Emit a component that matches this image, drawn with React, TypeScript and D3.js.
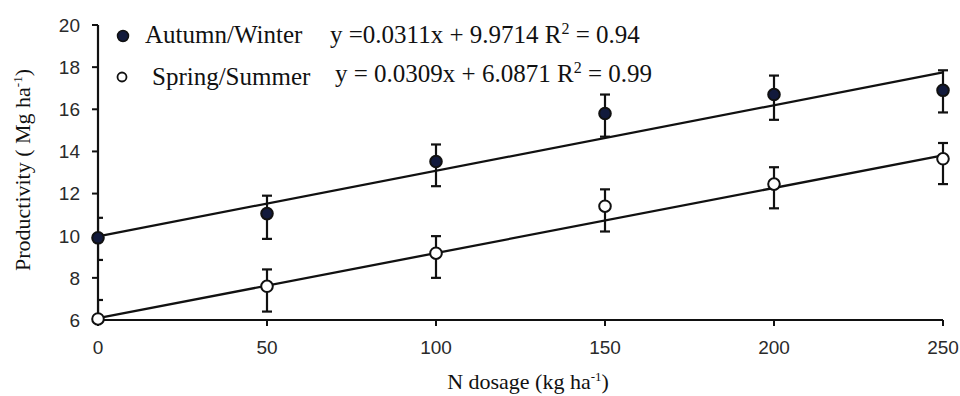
import * as d3 from "d3"

const doses = [0, 50, 100, 150, 200, 250]
const autumnMean = [9.9, 11.05, 13.52, 15.8, 16.7, 16.9]
const autumnLow = [8.85, 9.85, 12.35, 14.7, 15.5, 15.85]
const autumnHigh = [10.85, 11.9, 14.33, 16.7, 17.6, 17.85]
const springMean = [6.05, 7.6, 9.17, 11.4, 12.45, 13.65]
const springLow = [5.1, 6.4, 8.0, 10.2, 11.3, 12.45]
const springHigh = [6.95, 8.4, 9.98, 12.2, 13.25, 14.4]
const fits = [
  { slope: 0.0311, intercept: 9.9714 },
  { slope: 0.0309, intercept: 6.0871 },
]
const yTicks = [6, 8, 10, 12, 14, 16, 18, 20]
const xTicks = [0, 50, 100, 150, 200, 250]

const W = 960
const H = 396
const serif = "'Liberation Serif', 'Times New Roman', serif"
const sans = "'Liberation Sans', Arial, sans-serif"

export default function App() {
  const x = d3.scaleLinear().domain([0, 250]).range([98, 943])
  const y = d3.scaleLinear().domain([6, 20]).range([320, 25])

  const series = [
    { mean: autumnMean, low: autumnLow, high: autumnHigh, fill: "#121a3c", fit: fits[0] },
    { mean: springMean, low: springLow, high: springHigh, fill: "#ffffff", fit: fits[1] },
  ]

  const line = d3.line<number>().x((d) => x(d))

  return (
    <svg width={W} height={H} style={{ position: "absolute", left: 0, top: 0, background: "#fff" }}>
      <defs>
        <clipPath id="plot">
          <rect x={x(0)} y={0} width={x(250) - x(0) + 20} height={y(6)} />
        </clipPath>
      </defs>

      {/* y axis */}
      <line x1={x(0)} x2={x(0)} y1={y(20)} y2={y(6)} stroke="#111" strokeWidth={2.2} />
      {yTicks.map((t) => (
        <g key={t}>
          <line x1={x(0) - 6} x2={x(0)} y1={y(t)} y2={y(t)} stroke="#111" strokeWidth={2} />
          <text
            x={80}
            y={y(t)}
            dy="0.36em"
            textAnchor="end"
            fontFamily={sans}
            fontSize={19}
            fill="#2a2a2a"
          >
            {t}
          </text>
        </g>
      ))}

      {/* x axis */}
      <line x1={x(0)} x2={x(250)} y1={y(6)} y2={y(6)} stroke="#111" strokeWidth={2.2} />
      {xTicks.map((t) => (
        <g key={t}>
          <line x1={x(t)} x2={x(t)} y1={y(6)} y2={y(6) + 6} stroke="#111" strokeWidth={2} />
          <text
            x={x(t)}
            y={354}
            textAnchor="middle"
            fontFamily={sans}
            fontSize={19}
            fill="#2a2a2a"
          >
            {t}
          </text>
        </g>
      ))}

      {/* axis titles */}
      <text
        transform={`translate(30, 170) rotate(-90)`}
        textAnchor="middle"
        fontFamily={serif}
        fontSize={22}
        fill="#111"
      >
        Productivity ( Mg ha
        <tspan dy={-8} fontSize={13}>-1</tspan>
        <tspan dy={8}>)</tspan>
      </text>
      <text x={528} y={389} textAnchor="middle" fontFamily={serif} fontSize={22} fill="#111">
        N dosage (kg ha
        <tspan dy={-8} fontSize={13}>-1</tspan>
        <tspan dy={8}>)</tspan>
      </text>

      {/* regression lines */}
      {series.map((s, i) => (
        <path
          key={`fit-${i}`}
          d={line.y((d) => y(s.fit.slope * d + s.fit.intercept))([0, 250]) || ""}
          fill="none"
          stroke="#111"
          strokeWidth={2.3}
        />
      ))}

      {/* error bars and points */}
      <g clipPath="url(#plot)">
        {series.map((s, i) =>
          doses.map((d, j) => (
            <g key={`err-${i}-${j}`} stroke="#111" strokeWidth={2.2}>
              <line x1={x(d)} x2={x(d)} y1={y(s.low[j])} y2={y(s.high[j])} />
              <line x1={x(d) - 5} x2={x(d) + 5} y1={y(s.low[j])} y2={y(s.low[j])} />
              <line x1={x(d) - 5} x2={x(d) + 5} y1={y(s.high[j])} y2={y(s.high[j])} />
            </g>
          ))
        )}
      </g>
      {series.map((s, i) =>
        doses.map((d, j) => (
          <circle
            key={`pt-${i}-${j}`}
            cx={x(d)}
            cy={y(s.mean[j])}
            r={5.8}
            fill={s.fill}
            stroke="#111"
            strokeWidth={2}
          />
        ))
      )}

      {/* legend */}
      <circle cx={123} cy={36} r={5.5} fill="#121a3c" stroke="#111" strokeWidth={1.5} />
      <text x={145} y={43} fontFamily={serif} fontSize={25} fill="#111">
        Autumn/Winter
      </text>
      <text x={330} y={43} fontFamily={serif} fontSize={25} fill="#111">
        y =0.0311x + 9.9714 R<tspan dy={-9} fontSize={16}>2</tspan>
        <tspan dy={9}> = 0.94</tspan>
      </text>
      <circle cx={122} cy={77} r={4.5} fill="#fff" stroke="#111" strokeWidth={1.8} />
      <text x={152} y={85} fontFamily={serif} fontSize={25} fill="#111">
        Spring/Summer
      </text>
      <text x={335} y={82} fontFamily={serif} fontSize={25} fill="#111">
        y = 0.0309x + 6.0871 R<tspan dy={-9} fontSize={16}>2</tspan>
        <tspan dy={9}> = 0.99</tspan>
      </text>
    </svg>
  )
}
